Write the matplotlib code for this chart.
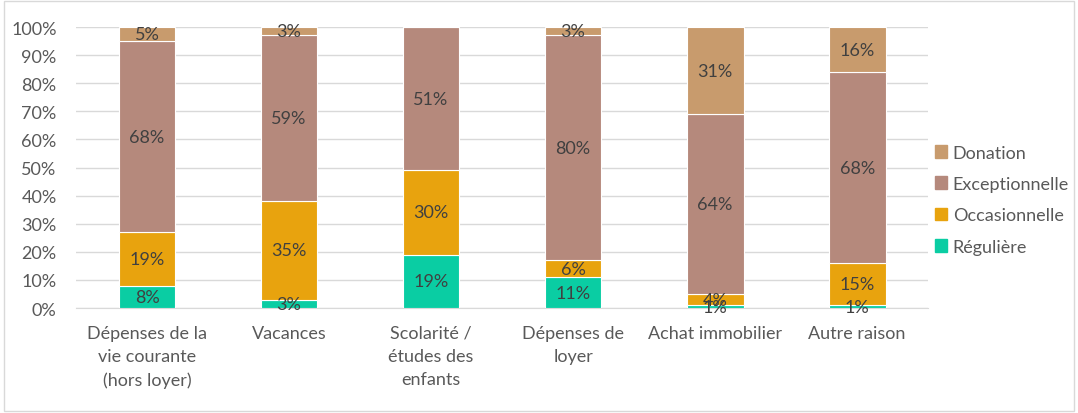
import matplotlib
matplotlib.use("Agg")
import matplotlib.pyplot as plt
import matplotlib.patches as mpatches
from matplotlib.ticker import FuncFormatter, MultipleLocator
import numpy as np

categories = ["Dépenses de la\nvie courante\n(hors loyer)", "Vacances",
              "Scolarité /\nétudes des\nenfants", "Dépenses de\nloyer",
              "Achat immobilier", "Autre raison"]
series_names = ["Régulière", "Occasionnelle", "Exceptionnelle", "Donation"]
reguliere = [8, 3, 19, 11, 1, 1]
occasionnelle = [19, 35, 30, 6, 4, 15]
exceptionnelle = [68, 59, 51, 80, 64, 68]
donation = [5, 3, 0, 3, 31, 16]
colors = ["#0ACDA3", "#E8A30E", "#B5897C", "#C89B6D"]

plt.rcParams['font.family'] = ['Lato', 'DejaVu Sans']
text_color = "#404040"
tick_color = "#595959"

fig = plt.figure(figsize=(10.78, 4.14), dpi=100)
ax = fig.add_axes([0.0705, 0.2536, 0.7905, 0.6786])

x = np.arange(len(categories))
width = 0.40
bottom = np.zeros(len(categories))
data = [reguliere, occasionnelle, exceptionnelle, donation]
for name, vals, col in zip(series_names, data, colors):
    vals = np.array(vals, dtype=float)
    ax.bar(x, vals, width, bottom=bottom, color=col, edgecolor="white",
           linewidth=0.8, label=name, zorder=3)
    for xi, v, b in zip(x, vals, bottom):
        if v > 0:
            ax.text(xi, b + v / 2, f"{int(v)}%", ha="center", va="center",
                    fontsize=13, color=text_color, zorder=4)
    bottom += vals

ax.set_xlim(-0.5, len(categories) - 0.5)
ax.set_ylim(0, 100)
ax.yaxis.set_major_locator(MultipleLocator(10))
ax.yaxis.set_major_formatter(FuncFormatter(lambda v, p: f"{int(v)}%"))
ax.grid(axis="y", color="#D9D9D9", linewidth=1, zorder=0)
for s in ["top", "right", "left"]:
    ax.spines[s].set_visible(False)
ax.spines["bottom"].set_color("#D9D9D9")
ax.tick_params(axis="both", length=0, labelsize=13, labelcolor=tick_color)
ax.tick_params(axis="y", pad=14)
ax.tick_params(axis="x", pad=12)
ax.set_xticks(x)
ax.set_xticklabels(categories, linespacing=1.55)

handles = [mpatches.Patch(color=c, label=n) for n, c in zip(series_names, colors)][::-1]
leg = fig.legend(handles=handles, loc="center left", bbox_to_anchor=(0.852, 0.515),
                 frameon=False, fontsize=13, handlelength=0.7, handleheight=0.7,
                 handletextpad=0.3, labelspacing=0.85)
for t in leg.get_texts():
    t.set_color(tick_color)

border = mpatches.Rectangle((0.004, 0.004), 0.992, 0.99, transform=fig.transFigure,
                            fill=False, edgecolor="#D9D9D9", linewidth=1)
fig.patches.append(border)

fig.savefig("out.png", dpi=100)
